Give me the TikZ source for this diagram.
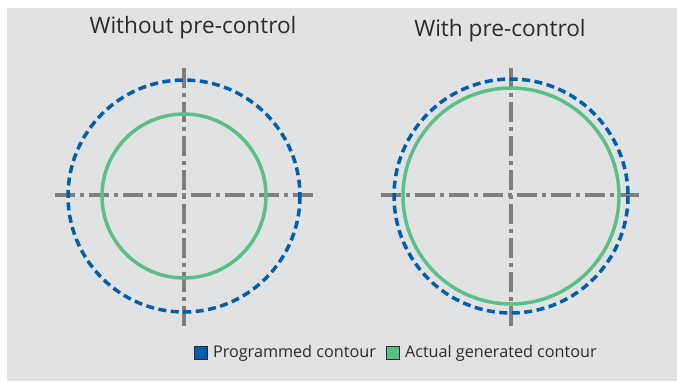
\documentclass[tikz,border=0pt]{standalone}
\usepackage{fontspec}
\setmainfont{Open Sans}
\definecolor{panelgray}{HTML}{E1E2E4}
\definecolor{progblue}{HTML}{005EAA}
\definecolor{actgreen}{HTML}{5CBF88}
\definecolor{axisgray}{HTML}{7F7F80}
\definecolor{textgray}{HTML}{2B2B2B}
\tikzset{
    axisline/.style={draw=axisgray,line width=3.5pt,dash pattern=on 20pt off 5pt on 4pt off 5pt},
    progline/.style={draw=progblue,line width=3.5pt,dash pattern=on 8pt off 4.5pt},
    actline/.style={draw=actgreen,line width=3.5pt},
    legendbox/.style={draw=textgray,line width=1.2pt,minimum size=13pt,inner sep=0pt}
}
\begin{document}
\begin{tikzpicture}[x=1pt,y=-1pt,text=textgray]

        % background
        \useasboundingbox (0,0) rectangle (677,381);
        \fill [panelgray] (7,8) rectangle (677,381);

        % titles
        \node [font=\fontsize{22.6}{26}\selectfont] (t1) at (193, 28) {Without pre-control};
        \node [font=\fontsize{22.6}{26}\selectfont] (t2) at (500, 31) {With pre-control};

        % axes
        \coordinate (l1) at (55, 195);
        \coordinate (r1) at (314, 195);
        \coordinate (u1) at (184, 68);
        \coordinate (d1) at (184, 327);
        \coordinate (l2) at (381, 195);
        \coordinate (r2) at (641, 195);
        \coordinate (u2) at (511, 68);
        \coordinate (d2) at (511, 327);

        \draw [axisline] (l1) -- (r1);
        \draw [axisline] (u1) -- (d1);
        \draw [axisline] (l2) -- (r2);
        \draw [axisline] (u2) -- (d2);

        % contours
        \coordinate (c1) at (184, 196);
        \coordinate (c2) at (511, 196);
        \draw [progline] (c1) circle [radius=116];
        \draw [actline] (c1) circle [radius=82];
        \draw [progline] (c2) circle [radius=117];
        \draw [actline] (c2) circle [radius=108];

        % legend
        \node [legendbox,fill=progblue] (k1) at (201, 353) {};
        \node [anchor=west,font=\fontsize{16.2}{19}\selectfont] (k1t) at (209.5, 353) {Programmed contour};
        \node [legendbox,fill=actgreen] (k2) at (393, 353) {};
        \node [anchor=west,font=\fontsize{16.2}{19}\selectfont] (k2t) at (401.5, 353) {Actual generated contour};
    \end{tikzpicture}
\end{document}
